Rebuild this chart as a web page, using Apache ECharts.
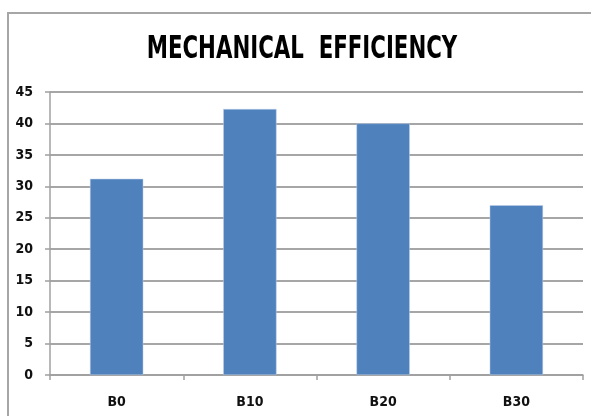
<!DOCTYPE html>
<html>
<head>
<meta charset="utf-8">
<script src="https://cdn.jsdelivr.net/npm/echarts@6/dist/echarts.min.js"></script>
<style>
  html, body { margin: 0; padding: 0; background: #fff; overflow: hidden; }
  #chart { width: 591px; height: 416px; }
</style>
</head>
<body>
<div id="chart"></div>
<script>
// Mechanical efficiency per blend
const categories = ['B0', 'B10', 'B20', 'B30'];
const efficiency = [31.2, 42.3, 40.0, 27.0];
const yTicks = [0, 5, 10, 15, 20, 25, 30, 35, 40, 45];
const chartTitle = 'MECHANICAL  EFFICIENCY';

const labelFont = '"DejaVu Sans Condensed", "DejaVu Sans", sans-serif';
const frameStyle = { stroke: '#a6a6a6', lineWidth: 2 };

const chart = echarts.init(document.getElementById('chart'), null, { renderer: 'canvas' });

chart.setOption({
  animation: false,
  backgroundColor: '#ffffff',
  graphic: [
    {
      // left edge of the chart frame
      type: 'line',
      shape: { x1: 8, y1: 12, x2: 8, y2: 416 },
      style: frameStyle,
      silent: true,
      z: -1
    },
    {
      // top edge of the chart frame
      type: 'line',
      shape: { x1: 7, y1: 13, x2: 591, y2: 13 },
      style: frameStyle,
      silent: true,
      z: -1
    },
    {
      // narrow, tall heading
      type: 'text',
      x: 302, y: 50,
      scaleX: 0.74,
      style: {
        text: chartTitle,
        fontFamily: labelFont,
        fontWeight: 'bold',
        fontSize: 32,
        fill: '#000',
        align: 'center',
        verticalAlign: 'middle'
      }
    }
  ],
  grid: { left: 50, right: 8, top: 92, bottom: 41, containLabel: false },
  xAxis: {
    type: 'category',
    data: categories,
    axisLine: { lineStyle: { color: '#a0a0a0', width: 1.5 } },
    axisTick: { show: true, length: 5, lineStyle: { color: '#a0a0a0', width: 1.5 } },
    axisLabel: {
      margin: 20,
      fontFamily: labelFont,
      fontWeight: 'bold',
      fontSize: 14,
      color: '#111'
    }
  },
  yAxis: {
    type: 'value',
    min: yTicks[0],
    max: yTicks[yTicks.length - 1],
    interval: yTicks[1] - yTicks[0],
    axisLine: { show: true, lineStyle: { color: '#a0a0a0', width: 1.5 } },
    axisTick: { show: true, length: 5, lineStyle: { color: '#a0a0a0', width: 1.5 } },
    axisLabel: {
      margin: 17,
      fontFamily: labelFont,
      fontWeight: 'bold',
      fontSize: 14,
      color: '#111'
    },
    splitLine: { show: true, lineStyle: { color: '#a6a6a6', width: 2 } }
  },
  series: [{
    type: 'bar',
    data: efficiency,
    barWidth: '40%',
    itemStyle: { color: '#4f81bd', borderColor: '#c3d3ea', borderWidth: 0.5 }
  }]
});
</script>
</body>
</html>
